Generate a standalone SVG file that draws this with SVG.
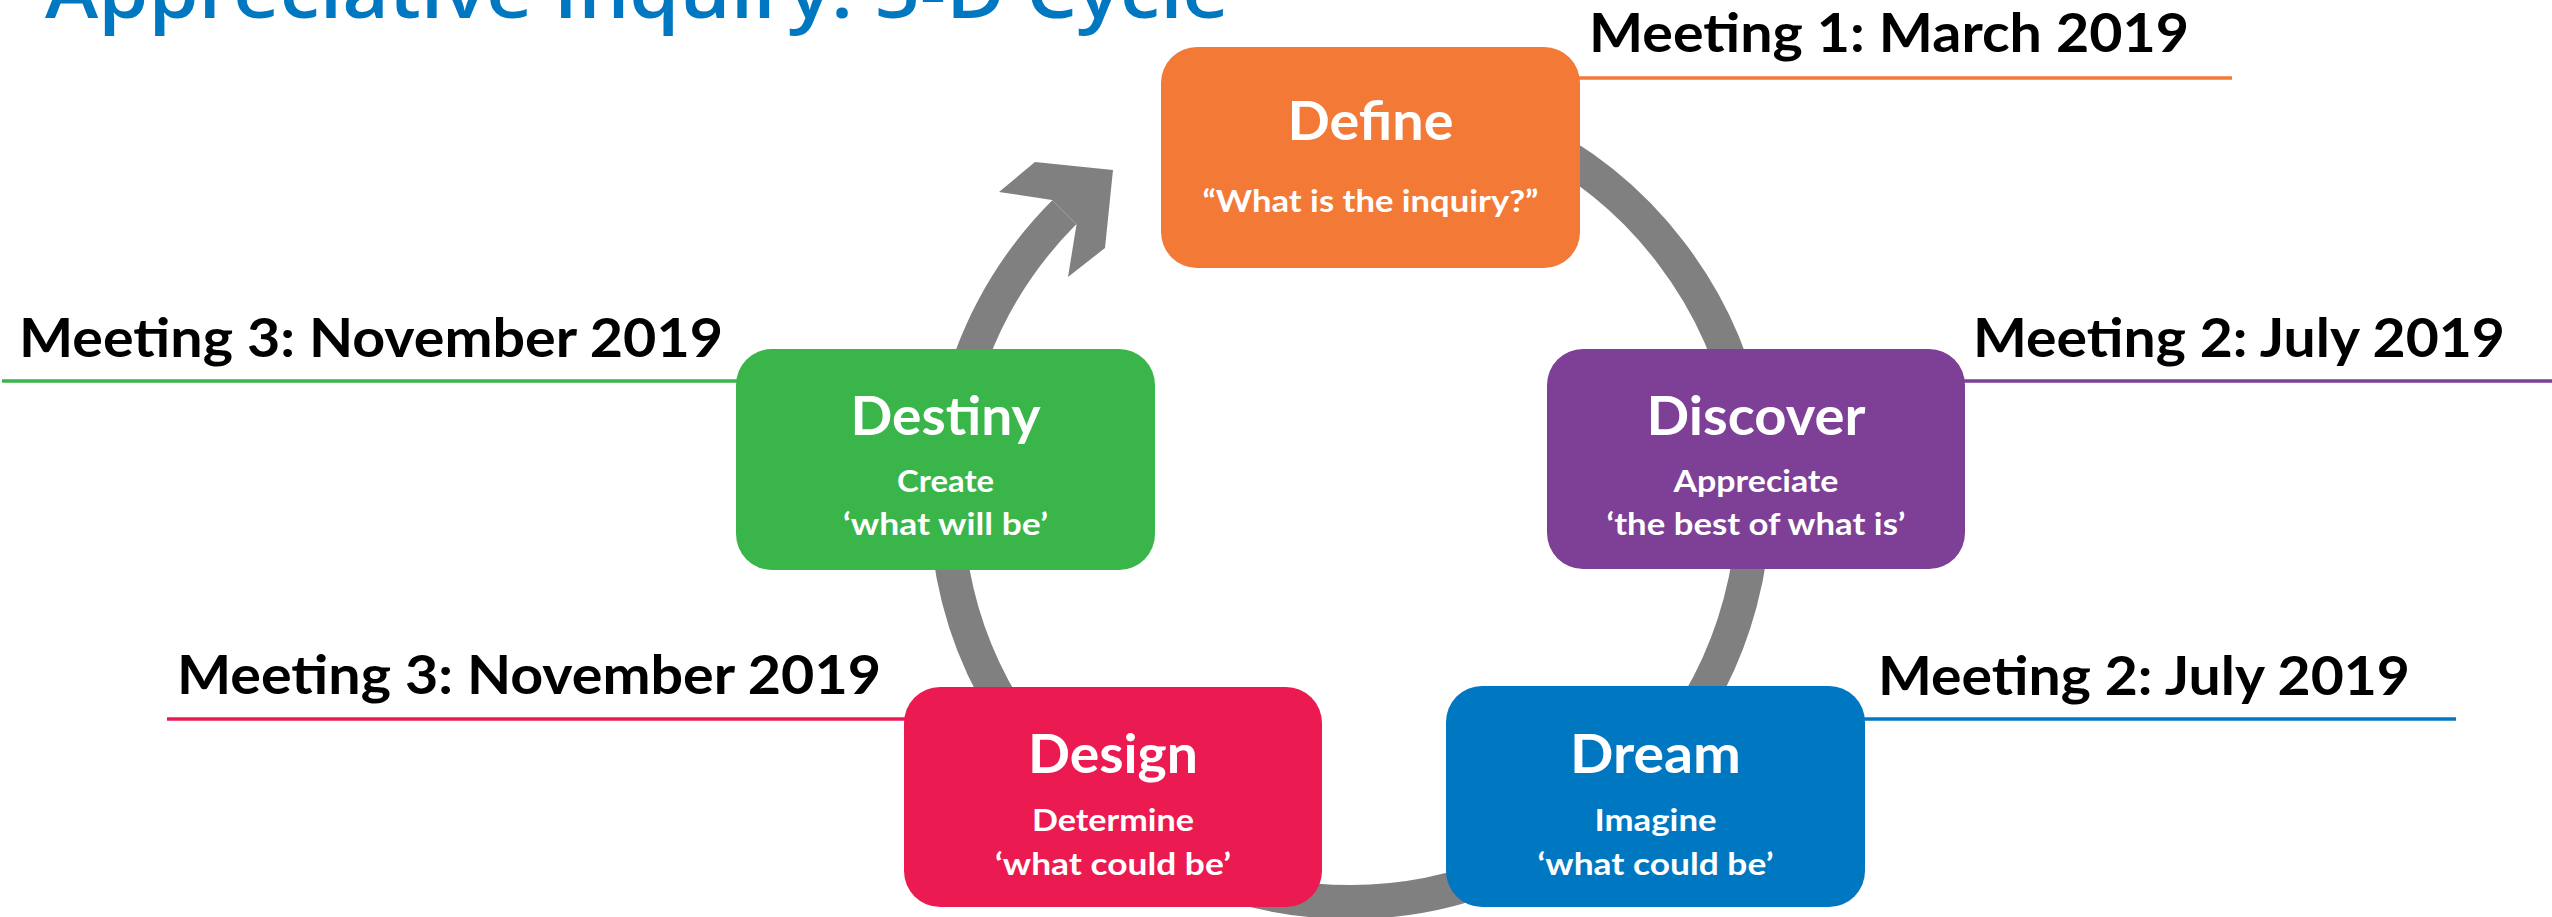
<svg xmlns="http://www.w3.org/2000/svg" width="2552" height="917" viewBox="0 0 2552 917">
<style>
.box-title{font-family:Lato,"Open Sans","Liberation Sans",sans-serif;font-weight:700;font-size:53px;fill:#fff;text-anchor:middle}
.box-sub{font-family:Lato,"Open Sans","Liberation Sans",sans-serif;font-weight:700;font-size:30px;fill:#fff;text-anchor:middle}
.meet{font-family:Lato,"Open Sans","Liberation Sans",sans-serif;font-weight:700;font-size:53px;fill:#000}
.title{font-family:"Open Sans","Liberation Sans",sans-serif;font-weight:600;font-size:74px;fill:#0078C1}
.rule{stroke-width:3.5;fill:none}
</style>
<rect width="2552" height="917" fill="#fff"/>
<text class="title" x="45" y="18" textLength="1184" lengthAdjust="spacingAndGlyphs">Appreciative Inquiry: 5-D Cycle</text>

<g id="connectors">
<path d="M 1350 94 A 404 404 0 1 1 1064.3 212.3" fill="none" stroke="#808080" stroke-width="34"/>
<polygon points="999,192 1035,162 1113,170 1105,248 1068,277 1076.5,224.5 1052,200" fill="#808080"/>
</g>

<g id="meeting1">
<line class="rule" x1="1579" y1="78" x2="2232" y2="78" stroke="#F37937"/>
<text class="meet" x="1589" y="52" textLength="600" lengthAdjust="spacingAndGlyphs">Meeting 1: March 2019</text>
</g>
<g id="meeting2-top">
<line class="rule" x1="1964" y1="381" x2="2552" y2="381" stroke="#7E3F96"/>
<text class="meet" x="1973" y="357" textLength="532" lengthAdjust="spacingAndGlyphs">Meeting 2: July 2019</text>
</g>
<g id="meeting3-top">
<line class="rule" x1="2" y1="381" x2="737" y2="381" stroke="#3AB54A"/>
<text class="meet" x="19" y="357" textLength="704" lengthAdjust="spacingAndGlyphs">Meeting 3: November 2019</text>
</g>
<g id="meeting2-bottom">
<line class="rule" x1="1864" y1="719" x2="2456" y2="719" stroke="#0078C1"/>
<text class="meet" x="1878" y="695" textLength="532" lengthAdjust="spacingAndGlyphs">Meeting 2: July 2019</text>
</g>
<g id="meeting3-bottom">
<line class="rule" x1="167" y1="719" x2="905" y2="719" stroke="#EB1A50"/>
<text class="meet" x="177" y="694" textLength="704" lengthAdjust="spacingAndGlyphs">Meeting 3: November 2019</text>
</g>

<g id="define">
<rect x="1161" y="47" width="419" height="221" rx="36" fill="#F37937"/>
<text class="box-title" x="1370.5" y="140" textLength="166" lengthAdjust="spacingAndGlyphs">Define</text>
<text class="box-sub" x="1370.5" y="212" textLength="336" lengthAdjust="spacingAndGlyphs">“What is the inquiry?”</text>
</g>
<g id="discover">
<rect x="1547" y="349" width="418" height="220" rx="36" fill="#7E3F96"/>
<text class="box-title" x="1756" y="435" textLength="219" lengthAdjust="spacingAndGlyphs">Discover</text>
<text class="box-sub" x="1756" y="492" textLength="165" lengthAdjust="spacingAndGlyphs">Appreciate</text>
<text class="box-sub" x="1756" y="535" textLength="299" lengthAdjust="spacingAndGlyphs">‘the best of what is’</text>
</g>
<g id="destiny">
<rect x="736" y="349" width="419" height="221" rx="36" fill="#3AB54A"/>
<text class="box-title" x="945.5" y="435" textLength="190" lengthAdjust="spacingAndGlyphs">Destiny</text>
<text class="box-sub" x="945.5" y="492" textLength="97" lengthAdjust="spacingAndGlyphs">Create</text>
<text class="box-sub" x="945.5" y="535" textLength="205" lengthAdjust="spacingAndGlyphs">‘what will be’</text>
</g>
<g id="design">
<rect x="904" y="687" width="418" height="220" rx="36" fill="#EB1A50"/>
<text class="box-title" x="1113" y="773" textLength="170" lengthAdjust="spacingAndGlyphs">Design</text>
<text class="box-sub" x="1113" y="831" textLength="162" lengthAdjust="spacingAndGlyphs">Determine</text>
<text class="box-sub" x="1113" y="875" textLength="236" lengthAdjust="spacingAndGlyphs">‘what could be’</text>
</g>
<g id="dream">
<rect x="1446" y="686" width="419" height="221" rx="36" fill="#0078C1"/>
<text class="box-title" x="1655.5" y="773" textLength="171" lengthAdjust="spacingAndGlyphs">Dream</text>
<text class="box-sub" x="1655.5" y="831" textLength="122" lengthAdjust="spacingAndGlyphs">Imagine</text>
<text class="box-sub" x="1655.5" y="875" textLength="236" lengthAdjust="spacingAndGlyphs">‘what could be’</text>
</g>
</svg>
